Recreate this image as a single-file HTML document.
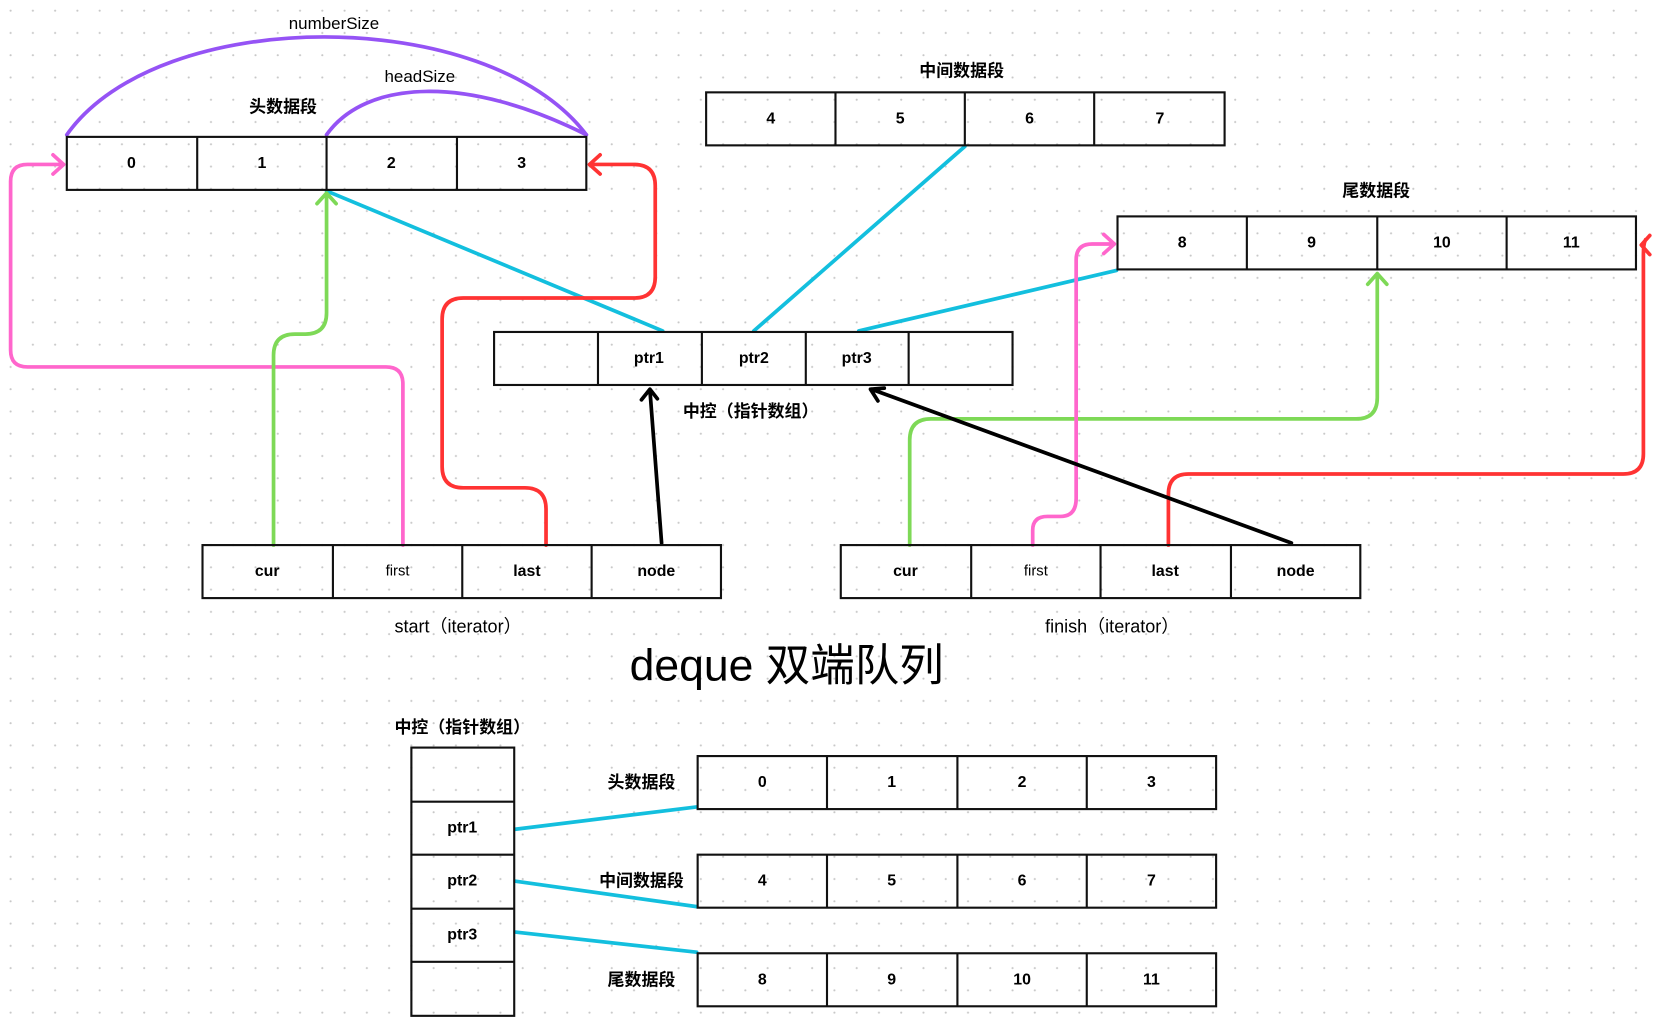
<!DOCTYPE html>
<html><head><meta charset="utf-8"><style>
html,body{margin:0;padding:0;background:#fff;}
svg{display:block;}
text{font-family:"Liberation Sans","Noto Sans CJK SC",sans-serif;fill:#000;}
.n{font-size:15px;font-weight:bold;text-anchor:middle;dominant-baseline:central;}
.l{font-size:16px;text-anchor:middle;dominant-baseline:central;}
.c{font-size:16px;font-weight:bold;text-anchor:middle;dominant-baseline:central;}
.box{fill:none;stroke:#111;stroke-width:2;}
.w{fill:none;stroke-width:3.5;stroke-linecap:round;stroke-linejoin:round;}
</style></head><body>
<svg width="1654" height="1017" viewBox="0 0 1560 959" xmlns="http://www.w3.org/2000/svg">
<defs>
<pattern id="dots" width="21" height="21" patternUnits="userSpaceOnUse"><circle cx="10" cy="10" r="1" fill="#c8c8c8"/></pattern>
</defs>
<rect width="1560" height="959" fill="url(#dots)"/>

<!-- purple arcs -->
<path class="w" stroke="#9553f5" d="M63 127 C150 4, 460 4, 553 127"/>
<path class="w" stroke="#9553f5" d="M308 127 C345 75, 440 70, 553 127"/>
<text class="l" x="315" y="22">numberSize</text>
<text class="l" x="396" y="72">headSize</text>

<!-- cyan lines -->
<path class="w" stroke="#13bfde" d="M308 180 L625 312 M910 138 L711 312 M810 312 L1053 255"/>
<path class="w" stroke="#13bfde" d="M486 782 L657 761 M486 831 L657 855 M486 879 L657 898"/>

<!-- start connectors -->
<path class="w" stroke="#ff66cc" d="M380 514 V362 Q380 346 364 346 H26 Q10 346 10 330 V171 Q10 155 26 155 H60 M50 146 L60 155 L50 164"/>
<path class="w" stroke="#7ed957" d="M258 514 V335 Q258 315 278 315 H288 Q308 315 308 295 V182 M299 192 L308 182 L317 192"/>
<path class="w" stroke="#ff3333" d="M515 514 V480 Q515 460 495 460 H437 Q417 460 417 440 V301 Q417 281 437 281 H598 Q618 281 618 261 V175 Q618 155 598 155 H556 M566 146 L556 155 L566 164"/>
<path class="w" stroke="#000" d="M624 512 L613 368 M605 377 L613 367 L620 376"/>

<!-- finish connectors -->
<path class="w" stroke="#7ed957" d="M858 514 V415 Q858 395 878 395 H1279 Q1299 395 1299 375 V258 M1290 268 L1299 258 L1308 268"/>
<path class="w" stroke="#ff66cc" d="M974 514 V500 Q974 487 988 487 H1000 Q1015 487 1015 470 V245 Q1015 230 1030 230 H1051 M1041 221 L1051 230 L1041 239"/>
<path class="w" stroke="#ff3333" d="M1102 514 V466 Q1102 447 1121 447 H1531 Q1550 447 1550 428 V240 Q1550 230 1552 226 M1556 222 L1548 231 L1556 240"/>
<path class="w" stroke="#000" d="M1218 512 L822 367 M834 366 L821 367 L828 378"/>

<!-- head segment -->
<rect class="box" x="63" y="129" width="490" height="50"/>
<path class="box" d="M186 129V179M308 129V179M431 129V179"/>
<text class="n" x="124" y="154">0</text><text class="n" x="247" y="154">1</text><text class="n" x="369" y="154">2</text><text class="n" x="492" y="154">3</text>
<text class="c" x="267" y="101">头数据段</text>

<!-- middle segment -->
<rect class="box" x="666" y="87" width="489" height="50"/>
<path class="box" d="M788 87V137M910 87V137M1032 87V137"/>
<text class="n" x="727" y="112">4</text><text class="n" x="849" y="112">5</text><text class="n" x="971" y="112">6</text><text class="n" x="1094" y="112">7</text>
<text class="c" x="907" y="67">中间数据段</text>

<!-- tail segment -->
<rect class="box" x="1054" y="204" width="489" height="50"/>
<path class="box" d="M1176 204V254M1299 204V254M1421 204V254"/>
<text class="n" x="1115" y="229">8</text><text class="n" x="1237" y="229">9</text><text class="n" x="1360" y="229">10</text><text class="n" x="1482" y="229">11</text>
<text class="c" x="1298" y="180">尾数据段</text>

<!-- map -->
<rect class="box" x="466" y="313" width="489" height="50"/>
<path class="box" d="M564 313V363M662 313V363M760 313V363M857 313V363"/>
<text class="n" x="612" y="338">ptr1</text><text class="n" x="711" y="338">ptr2</text><text class="n" x="808" y="338">ptr3</text>
<text class="c" x="708" y="388">中控（指针数组）</text>

<!-- start iterator -->
<rect class="box" x="191" y="514" width="489" height="50"/>
<path class="box" d="M314 514V564M436 514V564M558 514V564"/>
<text class="n" x="252" y="539">cur</text><text class="l" x="375" y="539" style="font-size:14px">first</text><text class="n" x="497" y="539">last</text><text class="n" x="619" y="539">node</text>
<text class="l" x="432" y="591" style="font-size:17px">start（iterator）</text>

<!-- finish iterator -->
<rect class="box" x="793" y="514" width="490" height="50"/>
<path class="box" d="M916 514V564M1038 514V564M1161 514V564"/>
<text class="n" x="854" y="539">cur</text><text class="l" x="977" y="539" style="font-size:14px">first</text><text class="n" x="1099" y="539">last</text><text class="n" x="1222" y="539">node</text>
<text class="l" x="1049" y="591" style="font-size:17px">finish（iterator）</text>

<text x="742" y="628" style="font-size:42px;text-anchor:middle;dominant-baseline:central;">deque 双端队列</text>

<!-- bottom -->
<text class="c" x="436" y="686">中控（指针数组）</text>
<rect class="box" x="388" y="705" width="97" height="253"/>
<path class="box" d="M388 756H485M388 806H485M388 857H485M388 907H485"/>
<text class="n" x="436" y="781">ptr1</text><text class="n" x="436" y="831">ptr2</text><text class="n" x="436" y="882">ptr3</text>

<rect class="box" x="658" y="713" width="489" height="50"/>
<path class="box" d="M780 713V763M903 713V763M1025 713V763"/>
<text class="n" x="719" y="738">0</text><text class="n" x="841" y="738">1</text><text class="n" x="964" y="738">2</text><text class="n" x="1086" y="738">3</text>
<text class="c" x="605" y="738">头数据段</text>

<rect class="box" x="658" y="806" width="489" height="50"/>
<path class="box" d="M780 806V856M903 806V856M1025 806V856"/>
<text class="n" x="719" y="831">4</text><text class="n" x="841" y="831">5</text><text class="n" x="964" y="831">6</text><text class="n" x="1086" y="831">7</text>
<text class="c" x="605" y="831">中间数据段</text>

<rect class="box" x="658" y="899" width="489" height="50"/>
<path class="box" d="M780 899V949M903 899V949M1025 899V949"/>
<text class="n" x="719" y="924">8</text><text class="n" x="841" y="924">9</text><text class="n" x="964" y="924">10</text><text class="n" x="1086" y="924">11</text>
<text class="c" x="605" y="924">尾数据段</text>
</svg>
</body></html>
